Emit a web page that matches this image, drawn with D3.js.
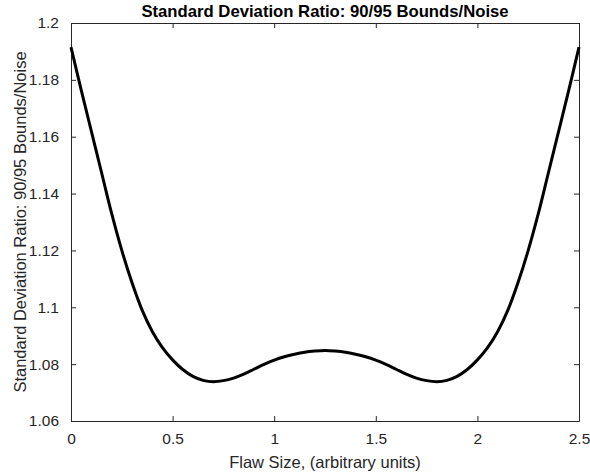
<!DOCTYPE html>
<html>
<head>
<meta charset="utf-8">
<script src="https://cdn.jsdelivr.net/npm/d3@7"></script>
<style>
  body { margin: 0; background: #fff; }
  svg { display: block; font-family: Arial, "Liberation Sans", sans-serif; }
</style>
</head>
<body>
<svg id="chart"></svg>
<script>
// Flaw size values (x) and standard deviation ratio (y)
const flawSize = [
    0, 0.05, 0.1, 0.15, 0.2, 0.25, 0.3, 0.35, 0.4, 0.45,
    0.5, 0.55, 0.6, 0.65, 0.7, 0.75, 0.8, 0.85, 0.9, 0.95,
    1.0, 1.05, 1.1, 1.15, 1.2, 1.25, 1.3, 1.35, 1.4, 1.45,
    1.5, 1.55, 1.6, 1.65, 1.7, 1.75, 1.8, 1.85, 1.9, 1.95,
    2.0, 2.05, 2.1, 2.15, 2.2, 2.25, 2.3, 2.35, 2.4, 2.45, 2.5
];
const sdRatio = [
    1.1915, 1.1765, 1.1620, 1.1475, 1.1330, 1.1200, 1.1087, 1.0990, 1.0915, 1.0858,
    1.0815, 1.0781, 1.0757, 1.0743, 1.0738, 1.0742, 1.0751, 1.0765, 1.0782, 1.0799,
    1.0814, 1.0826, 1.0835, 1.0842, 1.0846, 1.0848, 1.0846, 1.0842, 1.0835, 1.0826,
    1.0814, 1.0799, 1.0782, 1.0765, 1.0751, 1.0742, 1.0738, 1.0743, 1.0757, 1.0781,
    1.0815, 1.0858, 1.0915, 1.0990, 1.1087, 1.1200, 1.1330, 1.1475, 1.1620, 1.1765, 1.1915
];
const xTicks = [0, 0.5, 1, 1.5, 2, 2.5];
const yTicks = [1.06, 1.08, 1.1, 1.12, 1.14, 1.16, 1.18, 1.2];

const titleText = 'Standard Deviation Ratio: 90/95 Bounds/Noise';
const xLabel = 'Flaw Size, (arbitrary units)';
const yLabel = 'Standard Deviation Ratio: 90/95 Bounds/Noise';

const width = 590, height = 476;
const margin = {top: 23, right: 11, bottom: 55, left: 71};
const axisColor = '#262626';

const svg = d3.select('#chart').attr('width', width).attr('height', height);

const x = d3.scaleLinear().domain([0, 2.5]).range([margin.left, width - margin.right]);
const y = d3.scaleLinear().domain([1.06, 1.2]).range([height - margin.bottom, margin.top]);

// axes (MATLAB style box with inward ticks)
const fmt = d => String(+d.toFixed(2));
const tickLen = 5;

const gBottom = svg.append('g')
    .attr('transform', `translate(0,${height - margin.bottom})`)
    .call(d3.axisBottom(x).tickValues(xTicks).tickSizeInner(-tickLen).tickSizeOuter(0).tickPadding(12).tickFormat(fmt));
const gTop = svg.append('g')
    .attr('transform', `translate(0,${margin.top})`)
    .call(d3.axisTop(x).tickValues(xTicks).tickSizeInner(-tickLen).tickSizeOuter(0).tickFormat(''));
const gLeft = svg.append('g')
    .attr('transform', `translate(${margin.left},0)`)
    .call(d3.axisLeft(y).tickValues(yTicks).tickSizeInner(-tickLen).tickSizeOuter(0).tickPadding(12).tickFormat(fmt));
const gRight = svg.append('g')
    .attr('transform', `translate(${width - margin.right},0)`)
    .call(d3.axisRight(y).tickValues(yTicks).tickSizeInner(-tickLen).tickSizeOuter(0).tickFormat(''));

[gBottom, gTop, gLeft, gRight].forEach(g => {
    g.select('.domain').attr('stroke', axisColor).attr('stroke-width', 1);
    g.selectAll('.tick line').attr('stroke', axisColor);
    g.selectAll('.tick text')
        .attr('fill', axisColor)
        .style('font-size', '15.5px')
        .style('font-family', 'Arial, "Liberation Sans", sans-serif');
});

// curve
const points = flawSize.map((d, i) => [d, sdRatio[i]]);
const line = d3.line()
    .x(d => x(d[0]))
    .y(d => y(d[1]))
    .curve(d3.curveCatmullRom.alpha(0.5));

svg.append('path')
    .datum(points)
    .attr('fill', 'none')
    .attr('stroke', '#000')
    .attr('stroke-width', 3)
    .attr('stroke-linejoin', 'round')
    .attr('d', line);

// title and labels
const cx = (margin.left + width - margin.right) / 2;
svg.append('text')
    .attr('x', cx)
    .attr('y', 17)
    .attr('text-anchor', 'middle')
    .style('font-size', '16.7px')
    .style('font-weight', 'bold')
    .attr('fill', '#000')
    .text(titleText);

svg.append('text')
    .attr('x', cx)
    .attr('y', 468)
    .attr('text-anchor', 'middle')
    .style('font-size', '16.5px')
    .attr('fill', axisColor)
    .text(xLabel);

svg.append('text')
    .attr('transform', `translate(26,${(margin.top + height - margin.bottom) / 2}) rotate(-90)`)
    .attr('text-anchor', 'middle')
    .style('font-size', '16.5px')
    .attr('fill', axisColor)
    .text(yLabel);
</script>
</body>
</html>
